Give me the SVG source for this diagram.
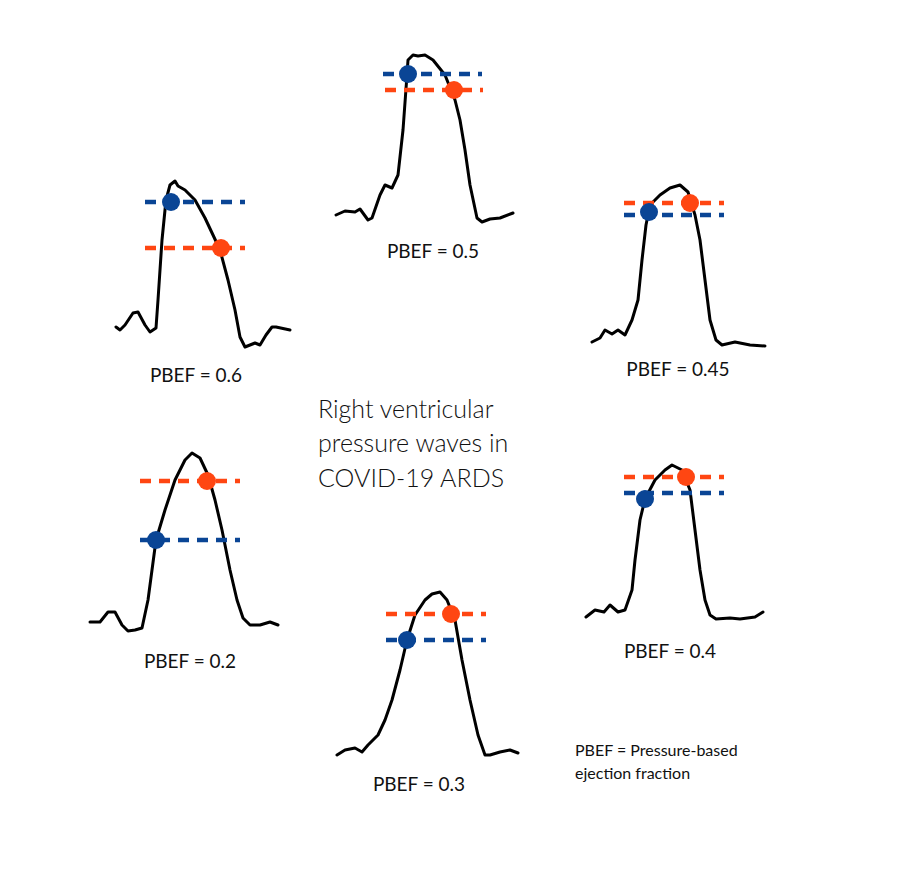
<svg xmlns="http://www.w3.org/2000/svg" width="906" height="877" viewBox="0 0 906 877">
<style>
.w{fill:none;stroke:#000;stroke-width:3;stroke-linejoin:round;stroke-linecap:round}
.b{stroke:#0a4595;stroke-width:4.5;stroke-dasharray:11 8}
.o{stroke:#ff4612;stroke-width:4.5;stroke-dasharray:11 8}
.bd{fill:#0a4595}.od{fill:#ff4612}
text{font-family:Lato,"Open Sans",sans-serif;fill:#111}
.l{font-size:19px;text-anchor:middle}
</style>
<rect width="906" height="877" fill="#fff"/>
<g id="w05">
<polyline class="w" points="336,215 345,211 355,212 360,209 368,220 372,218 380,195 385,185 392,188 398,175 403,130 407,75 408,60 413,55 418,56 425,55 433,60 445,75 455,100 460,120 465,150 470,185 477,218 482,222 490,219 500,218 513,213"/>
<line class="b" x1="383" y1="74" x2="482" y2="74"/><line class="o" x1="385" y1="90" x2="483" y2="90"/>
<circle class="bd" cx="408" cy="74" r="9"/><circle class="od" cx="454" cy="90" r="9"/>
<text class="l" x="433" y="258">PBEF = 0.5</text>
</g>
<g id="w06">
<polyline class="w" points="116,327 120,330 125,325 133,313 138,312 145,325 150,332 156,328 158,300 162,240 166,200 170,185 175,181 178,186 185,190 195,200 205,218 213,235 220,250 228,280 235,310 240,337 245,347 250,345 255,343 260,345 266,335 272,327 276,327 290,330"/>
<line class="b" x1="145" y1="202" x2="245" y2="202"/><line class="o" x1="145" y1="248" x2="245" y2="248"/>
<circle class="bd" cx="171" cy="202" r="9"/><circle class="od" cx="221" cy="248" r="9"/>
<text class="l" x="196" y="382">PBEF = 0.6</text>
</g>
<g id="w045">
<polyline class="w" points="592,342 600,338 605,330 612,334 618,330 625,335 632,320 638,300 642,260 646,225 650,205 660,195 670,188 680,185 688,192 695,215 700,240 705,280 710,320 716,340 722,345 735,342 750,345 765,346"/>
<line class="o" x1="624" y1="203" x2="724" y2="203"/><line class="b" x1="624" y1="215" x2="724" y2="215"/>
<circle class="bd" cx="649" cy="212" r="9"/><circle class="od" cx="690" cy="203" r="9"/>
<text class="l" x="678" y="376">PBEF = 0.45</text>
</g>
<g id="w02">
<polyline class="w" points="90,622 100,622 108,612 115,612 122,625 128,631 135,630 142,628 148,600 152,570 156,540 165,510 175,480 185,460 192,453 200,458 208,475 215,500 222,530 230,570 237,600 243,618 250,625 260,625 270,622 278,625"/>
<line class="o" x1="140" y1="481" x2="240" y2="481"/><line class="b" x1="140" y1="540" x2="240" y2="540"/>
<circle class="bd" cx="156" cy="540" r="9"/><circle class="od" cx="207" cy="481" r="9"/>
<text class="l" x="190" y="668">PBEF = 0.2</text>
</g>
<g id="w03">
<polyline class="w" points="337,755 345,750 355,748 362,752 368,745 378,735 385,720 392,700 400,670 407,640 415,615 425,600 432,594 440,592 447,600 455,620 462,660 470,700 478,735 485,755 490,755 500,752 510,750 518,753"/>
<line class="o" x1="386" y1="614" x2="486" y2="614"/><line class="b" x1="386" y1="640" x2="486" y2="640"/>
<circle class="bd" cx="407" cy="640" r="9"/><circle class="od" cx="451" cy="614" r="9"/>
<text class="l" x="419" y="791">PBEF = 0.3</text>
</g>
<g id="w04">
<polyline class="w" points="586,617 595,610 604,612 610,605 618,612 625,610 632,590 635,560 640,520 645,499 655,480 665,470 672,465 682,470 690,490 695,530 700,570 705,600 710,615 716,619 730,618 740,619 755,617 763,612"/>
<line class="o" x1="624" y1="477" x2="724" y2="477"/><line class="b" x1="624" y1="493" x2="724" y2="493"/>
<circle class="bd" cx="645" cy="499" r="9"/><circle class="od" cx="686" cy="477" r="9"/>
<text class="l" x="670" y="658">PBEF = 0.4</text>
</g>
<g id="title" font-size="25" font-weight="300">
<text x="318" y="418">Right ventricular</text>
<text x="318" y="452">pressure waves in</text>
<text x="318" y="487">COVID-19 ARDS</text>
</g>
<g id="note" font-size="16">
<text x="575" y="756">PBEF = Pressure-based</text>
<text x="575" y="779">ejection fraction</text>
</g>
</svg>
